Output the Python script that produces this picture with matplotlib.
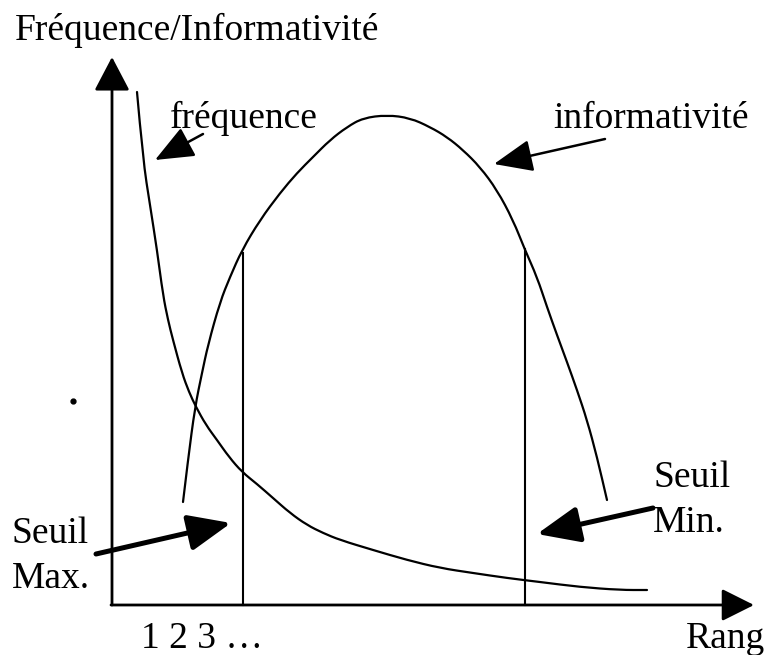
import numpy as np
import matplotlib.pyplot as plt
from matplotlib.path import Path
from matplotlib.patches import PathPatch

plt.rcParams['font.family'] = ['Liberation Serif', 'DejaVu Serif']

freq_x = [137, 143, 150, 157, 163, 168, 173, 182, 189, 196, 206, 217, 229, 242,
          257, 273, 290, 307, 323, 340, 373, 407, 440, 473, 507, 540, 580, 620, 647]
freq_y = [92, 160, 205, 250, 295, 320, 340, 373, 392, 407, 425, 440, 457, 472,
          484, 498, 513, 525, 533, 540, 550, 560, 568, 573, 578, 582, 587, 590, 590]

# Courbe d'informativité
info_x = [183, 188, 195, 202, 208, 220, 230, 242, 260, 280, 297,
          313, 330, 347, 363, 387, 410, 430, 447, 463, 480, 497, 513, 525, 537,
          547, 557, 567, 577, 587, 597, 607]
info_y = [502, 460, 407, 373, 345, 302, 277, 250, 220, 193, 173,
          157, 140, 127, 118, 115, 118, 127, 137, 150, 167, 190, 220, 250, 277,
          307, 335, 362, 390, 420, 457, 500]

# Seuils (position en rang, hauteur du trait)
seuil_x = [243, 525]
seuil_top = [253, 249]
origine = (112, 605)


def courbe(ax, xs, ys, lw=1.6):
    # trait lissé : les points lus servent de points de contrôle
    pts = list(zip(xs, ys))
    verts = [pts[0]]
    codes = [Path.MOVETO]
    for i in range(1, len(pts) - 1):
        mid = ((pts[i][0] + pts[i + 1][0]) / 2, (pts[i][1] + pts[i + 1][1]) / 2)
        verts += [pts[i], mid]
        codes += [Path.CURVE3, Path.CURVE3]
    verts.append(pts[-1])
    codes.append(Path.LINETO)
    ax.add_patch(PathPatch(Path(verts, codes), fill=False, lw=lw,
                           edgecolor='black', capstyle='round'))


fig = plt.figure(figsize=(7.68, 6.55), dpi=100)
ax = fig.add_axes([0, 0, 1, 1])
ax.set_xlim(0, 768)
ax.set_ylim(655, 0)
ax.axis('off')

# axes avec flèches
ax.annotate('', xy=(origine[0], 57), xytext=origine,
            arrowprops=dict(arrowstyle='-|>,head_length=1.05,head_width=0.55',
                            mutation_scale=20, lw=2, color='black',
                            shrinkA=0, shrinkB=0))
ax.annotate('', xy=(754, origine[1]), xytext=(origine[0] - 1, origine[1]),
            arrowprops=dict(arrowstyle='-|>,head_length=1.0,head_width=0.5',
                            mutation_scale=20, lw=2, color='black',
                            shrinkA=0, shrinkB=0))

# courbes
courbe(ax, freq_x, freq_y)
courbe(ax, info_x, info_y)

# seuils verticaux
for sx, st in zip(seuil_x, seuil_top):
    ax.plot([sx, sx], [st, origine[1]], color='black', lw=1.5)

# flèches d'annotation
thin = dict(arrowstyle='-|>,head_length=1.2,head_width=0.5', mutation_scale=20,
            lw=1.8, color='black', shrinkA=0, shrinkB=0)
thick = dict(arrowstyle='-|>,head_length=1.3,head_width=0.55', mutation_scale=20,
             lw=3.6, color='black', shrinkA=0, shrinkB=0)
ax.annotate('', xy=(155, 160), xytext=(203, 134), arrowprops=thin)
ax.annotate('', xy=(494, 164), xytext=(605, 139), arrowprops=thin)
ax.annotate('', xy=(231, 523), xytext=(96, 554), arrowprops=thick)
ax.annotate('', xy=(537, 534), xytext=(653, 508), arrowprops=thick)

# point isolé
ax.plot([73], [401], 'o', color='black', ms=3.5)

fs = 27
ax.text(15, 40, 'Fréquence/Informativité', fontsize=fs, va='baseline')
ax.text(170, 128, 'fréquence', fontsize=fs, va='baseline')
ax.text(553, 128, 'informativité', fontsize=fs, va='baseline')
ax.text(12, 543, 'Seuil', fontsize=fs, va='baseline')
ax.text(12, 588, 'Max.', fontsize=fs, va='baseline')
ax.text(653, 487, 'Seuil', fontsize=fs, va='baseline')
ax.text(653, 532, 'Min.', fontsize=fs, va='baseline')
ax.text(141, 648, '1 2 3 …', fontsize=fs, va='baseline')
ax.text(686, 648, 'Rang', fontsize=fs, va='baseline')

fig.savefig('out.png', dpi=100)
